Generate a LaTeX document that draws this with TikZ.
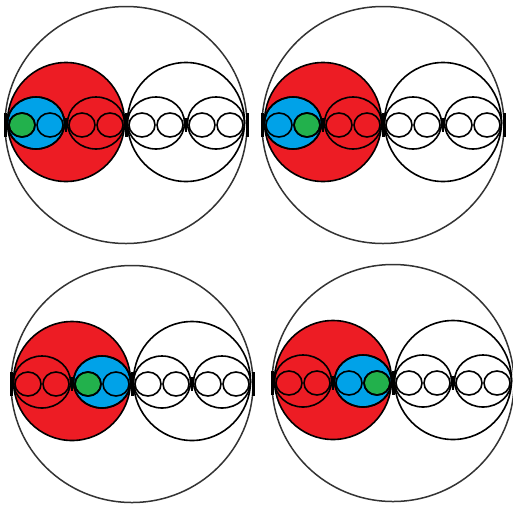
\documentclass[tikz,border=0pt]{standalone}
\usetikzlibrary{calc}
\definecolor{PaintRed}{HTML}{ED1C24}
\definecolor{PaintBlue}{HTML}{00A2E8}
\definecolor{PaintGreen}{HTML}{22B14C}

\begin{document}
\begin{tikzpicture}[x=1pt, y=-1pt,
  ring/.style={draw=black, line width=1.6pt},
  outerring/.style={draw=black!80, line width=1.5pt},
  joint/.style={fill=black},
]
  \useasboundingbox (0,0) rectangle (513,504);

  \foreach \cx/\cy/\pb/\pc in {126/122/-1/-1, 383/122/-1/1, 132/381/1/-1, 393/380/1/1} {
    % outer ring
    \draw[outerring] (\cx,\cy+3) ellipse [x radius=121, y radius=118.5];
    % first level: left one is red
    \draw[ring, fill=PaintRed] (\cx-60,\cy) ellipse [x radius=58.5, y radius=59.5];
    \draw[ring] (\cx+60,\cy) ellipse [x radius=58.5, y radius=59.5];
    % second level
    \draw[ring, fill=PaintBlue] (\cx-60+30*\pb,\cy+1) ellipse [x radius=28.5, y radius=26];
    \foreach \s in {-90,-30,30,90}
      \draw[ring] (\cx+\s,\cy+1) ellipse [x radius=28.5, y radius=26];
    % third level
    \draw[ring, fill=PaintGreen] (\cx-60+30*\pb+14*\pc,\cy+3) ellipse [x radius=13, y radius=12];
    \foreach \s in {-104,-76,-44,-16,16,44,76,104}
      \draw[ring] (\cx+\s,\cy+3) ellipse [x radius=13, y radius=12];
    % joints where the rings meet
    \foreach \s in {-121,0,121}
      \fill[joint] (\cx+\s-1.5,\cy-9) rectangle ++(3,24);
    \foreach \s in {-60,60}
      \fill[joint] (\cx+\s-1,\cy-4) rectangle ++(2,14);
  }
\end{tikzpicture}
\end{document}
